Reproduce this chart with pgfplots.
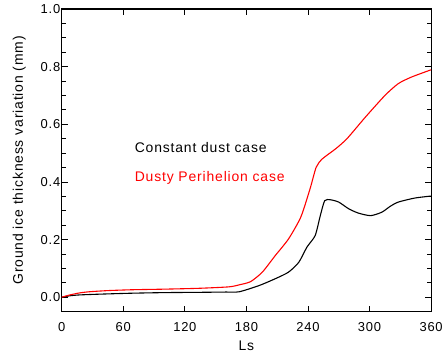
\documentclass[border=0pt]{standalone}
\usepackage{fontspec}
\setmainfont{Liberation Sans}
\newfontfamily\hfont[LetterSpace=6]{Liberation Sans}
\usepackage{pgfplots}
\pgfplotsset{compat=1.18}
\begin{document}
\begin{tikzpicture}
\begin{axis}[name=ax,
  scale only axis, width=371pt, height=304pt,
  xmin=0, xmax=360, ymin=-0.05, ymax=1.0,
  xtick={0,60,...,360}, ytick={0,0.2,...,1.0},
  minor y tick num=3,
  tick align=inside,
  major tick length=6pt, minor tick length=4pt,
  axis line style={line width=1.2pt},
  every tick/.style={black, line width=0.8pt},
  /pgf/number format/assume math mode=true,
  yticklabel style={/pgf/number format/fixed, /pgf/number format/zerofill, /pgf/number format/precision=1, xshift=2pt},
  xticklabel style={yshift=-7pt},
  ticklabel style={font=\hfont\fontsize{13}{15}\selectfont},
  xlabel={Ls}, ylabel={Ground ice thickness variation (mm)},
  label style={font=\hfont\fontsize{14}{16}\selectfont},
  xlabel style={yshift=-3pt},
  ylabel style={yshift=8pt},
]
\addplot[black, line width=1.1pt, smooth, tension=0.4] coordinates {
(0,0) (8,0.005) (17.5,0.008) (40,0.011) (69,0.014) (100,0.016) (134,0.017) (160,0.018) (173,0.019)
(192,0.040) (208,0.064) (221,0.087) (231,0.121) (239,0.174) (247,0.214) (252,0.283)
(256.3,0.335) (262,0.338) (270,0.33) (279.6,0.307) (289,0.292) (301,0.283) (312,0.295) (320,0.315)
(328,0.33) (344,0.344) (360,0.351)};
\addplot[red, line width=1.1pt, smooth, tension=0.4] coordinates {
(0,0) (8,0.008) (17.5,0.015) (27,0.019) (45,0.023) (69,0.026) (100,0.028) (134,0.031) (163,0.036)
(173,0.043) (184,0.054) (195.5,0.087) (208,0.144) (221,0.202) (233,0.278) (242,0.376) (248,0.451)
(254,0.48) (267,0.515) (278,0.55) (296,0.625) (315,0.70) (328,0.741) (341,0.764) (360,0.789)};
\node[anchor=base west, inner sep=0pt, font=\hfont\fontsize{14}{16}\selectfont] at (axis cs:71,0.501) {Constant dust case};
\node[anchor=base west, inner sep=0pt, font=\hfont\fontsize{14}{16}\selectfont, text=red] at (axis cs:71,0.4) {Dusty Perihelion case};
\end{axis}
\useasboundingbox ([shift={(-62pt,-41pt)}]ax.south west) rectangle ([shift={(13pt,9pt)}]ax.north east);
\end{tikzpicture}
\end{document}
